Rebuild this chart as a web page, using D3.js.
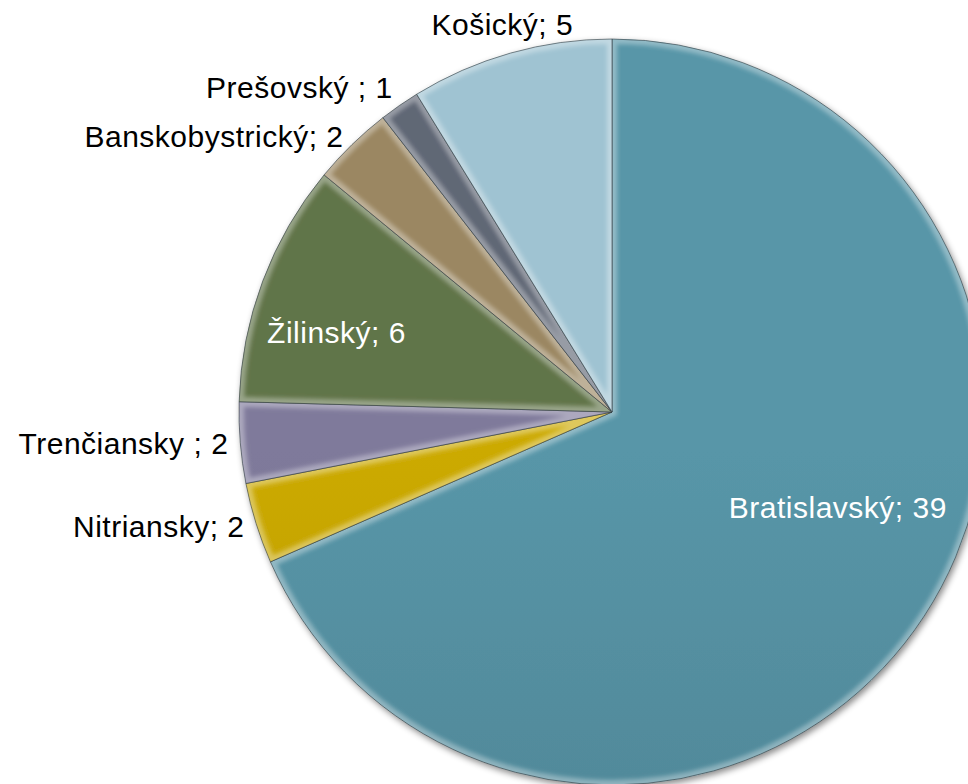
<!DOCTYPE html>
<html>
<head>
<meta charset="utf-8">
<script src="https://cdn.jsdelivr.net/npm/d3@7"></script>
<style>
  html, body { margin: 0; padding: 0; background: #fff; }
  svg { display: block; }
  text { font-family: "Liberation Sans", Arial, sans-serif; }
</style>
</head>
<body>
<svg width="968" height="784"></svg>
<script>
// regions and counts, clockwise from 12 o'clock
var regions = ["Bratislavský", "Nitriansky", "Trenčiansky", "Žilinský", "Banskobystrický", "Prešovský", "Košický"];
var counts = [39, 2, 2, 6, 2, 1, 5];
var labels = ["Bratislavský; 39", "Nitriansky; 2", "Trenčiansky ; 2", "Žilinský; 6", "Banskobystrický; 2", "Prešovský ; 1", "Košický; 5"];
var colors = ["#5693a5", "#c8a704", "#7d7898", "#5f7248", "#988560", "#5e6573", "#9cc0ce"];
var inside = [true, false, false, true, false, false, false];

// small hand nudges for the labels (layout only)
var labelNudge = [[1, -51], [0, 0], [0, 0], [-24, 15], [0, 0], [0, -8], [0, 0]];

var svg = d3.select("svg"),
    cx = 612,
    cy = 412,
    radius = 373;

var data = regions.map(function(r, i) {
    return { region: r, count: counts[i], label: labels[i], color: colors[i], inside: inside[i], nudge: labelNudge[i] };
});

var pie = d3.pie()
    .sort(null)
    .value(function(d) { return d.count; });

var arc = d3.arc()
    .innerRadius(0)
    .outerRadius(radius);

var arcs = pie(data);

var defs = svg.append("defs");

// soft shadow round the pie
var shadow = defs.append("filter").attr("id", "shadow")
    .attr("x", "-10%").attr("y", "-10%").attr("width", "120%").attr("height", "120%");
shadow.append("feDropShadow")
    .attr("dx", 2).attr("dy", 3).attr("stdDeviation", 3)
    .attr("flood-color", "#000").attr("flood-opacity", 0.45);

var bevel = defs.append("filter").attr("id", "bevel");
bevel.append("feGaussianBlur").attr("stdDeviation", 2.2);

arcs.forEach(function(d, i) {
    var c = d3.color(d.data.color);
    var g = defs.append("linearGradient")
        .attr("id", "grad" + i)
        .attr("gradientUnits", "userSpaceOnUse")
        .attr("x1", 0).attr("y1", cy - radius)
        .attr("x2", 0).attr("y2", cy + radius);
    g.append("stop").attr("offset", "0%").attr("stop-color", c.brighter(0.05));
    g.append("stop").attr("offset", "100%").attr("stop-color", c.darker(0.5));

    defs.append("clipPath").attr("id", "clip" + i)
        .append("path").attr("d", arc(d));
});

var g = svg.append("g")
    .attr("transform", "translate(" + cx + "," + cy + ")");

var pieG = g.append("g").attr("filter", "url(#shadow)");

var slice = pieG.selectAll(".slice")
    .data(arcs)
    .enter().append("g")
    .attr("class", "slice");

slice.append("path")
    .attr("d", arc)
    .attr("fill", function(d, i) { return "url(#grad" + i + ")"; });

// bevelled edge highlight
slice.append("g")
    .attr("clip-path", function(d, i) { return "url(#clip" + i + ")"; })
    .append("path")
    .attr("d", arc)
    .attr("fill", "none")
    .attr("stroke", "#ffffff")
    .attr("stroke-opacity", 0.35)
    .attr("stroke-width", 10)
    .attr("filter", "url(#bevel)");

slice.append("path")
    .attr("d", arc)
    .attr("fill", "none")
    .attr("stroke", "#2f3b40")
    .attr("stroke-opacity", 0.6)
    .attr("stroke-width", 1);

// labels
var outerLabel = d3.arc().innerRadius(radius + 12).outerRadius(radius + 12);
var topLabel = d3.arc().innerRadius(radius + 30).outerRadius(radius + 30);
var innerLabel = d3.arc().innerRadius(radius * 0.72).outerRadius(radius * 0.72);

function isTop(d) {
    var a = (d.startAngle + d.endAngle) / 2;
    return Math.abs(Math.sin(a)) < 0.3;
}

g.selectAll(".label")
    .data(arcs)
    .enter().append("text")
    .attr("class", "label")
    .attr("transform", function(d) {
        var p = d.data.inside ? innerLabel.centroid(d) : (isTop(d) ? topLabel.centroid(d) : outerLabel.centroid(d));
        return "translate(" + (p[0] + d.data.nudge[0]) + "," + (p[1] + d.data.nudge[1]) + ")";
    })
    .attr("dy", "0.35em")
    .attr("text-anchor", function(d) {
        if (d.data.inside || isTop(d)) return "middle";
        var a = (d.startAngle + d.endAngle) / 2;
        return Math.sin(a) < 0 ? "end" : "start";
    })
    .attr("fill", function(d) { return d.data.inside ? "#ffffff" : "#000000"; })
    .style("font-size", "30px")
    .style("letter-spacing", "0.5px")
    .text(function(d) { return d.data.label; });
</script>
</body>
</html>
